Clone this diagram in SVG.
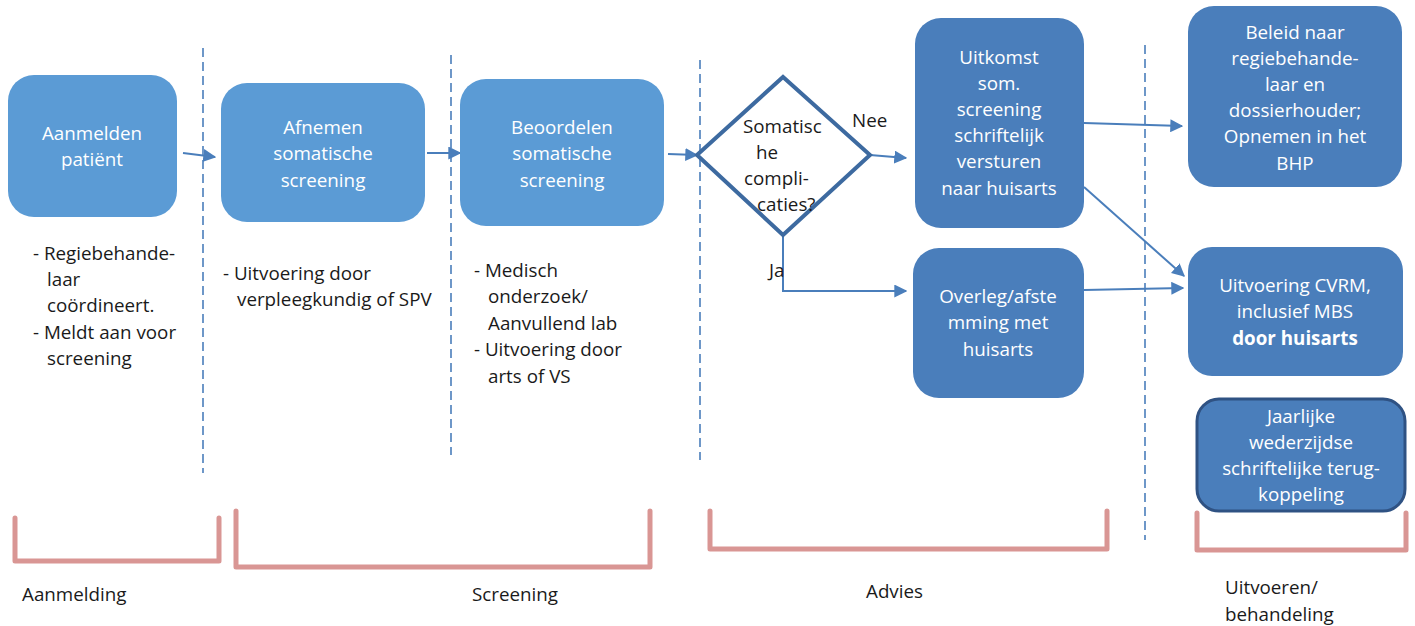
<svg xmlns="http://www.w3.org/2000/svg" width="1415" height="626" viewBox="0 0 1415 626">
<defs>
<style>
.t{font-family:"Open Sans","Liberation Sans",sans-serif;font-size:18.8px;}
.w{fill:#ffffff;text-anchor:middle;}
.k{fill:#1a1a1a;}
.lb{fill:#5b9bd5;}
.db{fill:#4a7ebb;}
.dash{stroke:#4a7ebb;stroke-width:1.6;stroke-dasharray:9 5;fill:none;}
.con{stroke:#4a7ebb;stroke-width:2;fill:none;marker-end:url(#ah);}
.br{stroke:#d99694;stroke-width:5;fill:none;stroke-linejoin:round;stroke-linecap:round;}
</style>
<marker id="ah" viewBox="0 0 10 10" refX="9" refY="5" markerWidth="6.5" markerHeight="6.5" orient="auto" markerUnits="strokeWidth">
<path d="M0,0 L10,5 L0,10 z" fill="#4a7ebb"/>
</marker>
</defs>
<rect width="1415" height="626" fill="#ffffff"/>

<g id="dividers">
<line class="dash" x1="203" y1="48" x2="203" y2="473"/>
<line class="dash" x1="451" y1="55" x2="451" y2="455"/>
<line class="dash" x1="700" y1="60" x2="700" y2="460"/>
<line class="dash" x1="1145" y1="45" x2="1145" y2="540"/>
</g>

<g id="connectors">
<line class="con" x1="183" y1="153" x2="215" y2="157"/>
<line class="con" x1="427" y1="153" x2="460" y2="153"/>
<line class="con" x1="668" y1="154" x2="697" y2="155"/>
<line class="con" x1="870" y1="155" x2="906" y2="158"/>
<polyline class="con" points="783,235 783,291 906,291"/>
<line class="con" x1="1084" y1="123" x2="1182" y2="126"/>
<line class="con" x1="1084" y1="187" x2="1184" y2="276"/>
<line class="con" x1="1084" y1="290" x2="1183" y2="288"/>
</g>

<g id="n-aanmelden">
<rect class="lb" x="8" y="75" width="169" height="142" rx="26"/>
<text class="t w" x="92" y="140">Aanmelden</text>
<text class="t w" x="92" y="166">patiënt</text>
</g>

<g id="n-afnemen">
<rect class="lb" x="221" y="83" width="204" height="139" rx="26"/>
<text class="t w" x="323" y="134">Afnemen</text>
<text class="t w" x="323" y="160">somatische</text>
<text class="t w" x="323" y="187">screening</text>
</g>

<g id="n-beoordelen">
<rect class="lb" x="460" y="79" width="204" height="147" rx="26"/>
<text class="t w" x="562" y="134">Beoordelen</text>
<text class="t w" x="562" y="160">somatische</text>
<text class="t w" x="562" y="187">screening</text>
</g>

<g id="n-decision">
<polygon points="697,155 783,77 870,155 783,235" fill="#ffffff" stroke="#3d6aa0" stroke-width="4" stroke-linejoin="miter"/>
<text class="t k" x="743" y="133">Somatisc</text>
<text class="t k" x="756" y="159">he</text>
<text class="t k" x="744" y="185">compli-</text>
<text class="t k" x="757" y="211">caties?</text>
</g>

<g id="labels-branch">
<text class="t k" x="852" y="127">Nee</text>
<text class="t k" x="769" y="277">Ja</text>
</g>

<g id="n-uitkomst">
<rect class="db" x="915" y="18" width="169" height="210" rx="26"/>
<text class="t w" x="999" y="64">Uitkomst</text>
<text class="t w" x="999" y="90">som.</text>
<text class="t w" x="999" y="116">screening</text>
<text class="t w" x="999" y="142">schriftelijk</text>
<text class="t w" x="999" y="168">versturen</text>
<text class="t w" x="999" y="195">naar huisarts</text>
</g>

<g id="n-overleg">
<rect class="db" x="913" y="248" width="171" height="150" rx="26"/>
<text class="t w" x="998" y="303">Overleg/afste</text>
<text class="t w" x="998" y="329">mming met</text>
<text class="t w" x="998" y="356">huisarts</text>
</g>

<g id="n-beleid">
<rect class="db" x="1188" y="6" width="214" height="181" rx="26"/>
<text class="t w" x="1295" y="39">Beleid naar</text>
<text class="t w" x="1295" y="65">regiebehande-</text>
<text class="t w" x="1295" y="91">laar en</text>
<text class="t w" x="1295" y="117">dossierhouder;</text>
<text class="t w" x="1295" y="143">Opnemen in het</text>
<text class="t w" x="1295" y="170">BHP</text>
</g>

<g id="n-cvrm">
<rect class="db" x="1188" y="247" width="215" height="129" rx="24"/>
<text class="t w" x="1295" y="292">Uitvoering CVRM,</text>
<text class="t w" x="1295" y="318">inclusief MBS</text>
<text class="t w" x="1295" y="345" font-weight="bold">door huisarts</text>
</g>

<g id="n-jaarlijke">
<rect class="db" x="1197" y="399" width="208" height="112" rx="22" stroke="#2f5283" stroke-width="3"/>
<text class="t w" x="1301" y="423">Jaarlijke</text>
<text class="t w" x="1301" y="449">wederzijdse</text>
<text class="t w" x="1301" y="475">schriftelijke terug-</text>
<text class="t w" x="1301" y="501">koppeling</text>
</g>

<g id="notes">
<text class="t k" x="33" y="260">- Regiebehande-</text>
<text class="t k" x="47" y="286">laar</text>
<text class="t k" x="47" y="312">coördineert.</text>
<text class="t k" x="33" y="339">- Meldt aan voor</text>
<text class="t k" x="47" y="365">screening</text>
<text class="t k" x="223" y="280">- Uitvoering door</text>
<text class="t k" x="237" y="306">verpleegkundig of SPV</text>
<text class="t k" x="474" y="277">- Medisch</text>
<text class="t k" x="488" y="303">onderzoek/</text>
<text class="t k" x="488" y="330">Aanvullend lab</text>
<text class="t k" x="474" y="356">- Uitvoering door</text>
<text class="t k" x="488" y="383">arts of VS</text>
</g>

<g id="phases">
<path class="br" d="M15,518 L15,561 L219,561 L219,518"/>
<path class="br" d="M236,511 L236,567 L650,567 L650,511"/>
<path class="br" d="M710,511 L710,549 L1107,549 L1107,511"/>
<path class="br" d="M1197,513 L1197,550 L1406,550 L1406,513"/>
<text class="t k" x="22" y="601">Aanmelding</text>
<text class="t k" x="472" y="601">Screening</text>
<text class="t k" x="866" y="598">Advies</text>
<text class="t k" x="1225" y="594">Uitvoeren/</text>
<text class="t k" x="1225" y="621">behandeling</text>
</g>
</svg>
